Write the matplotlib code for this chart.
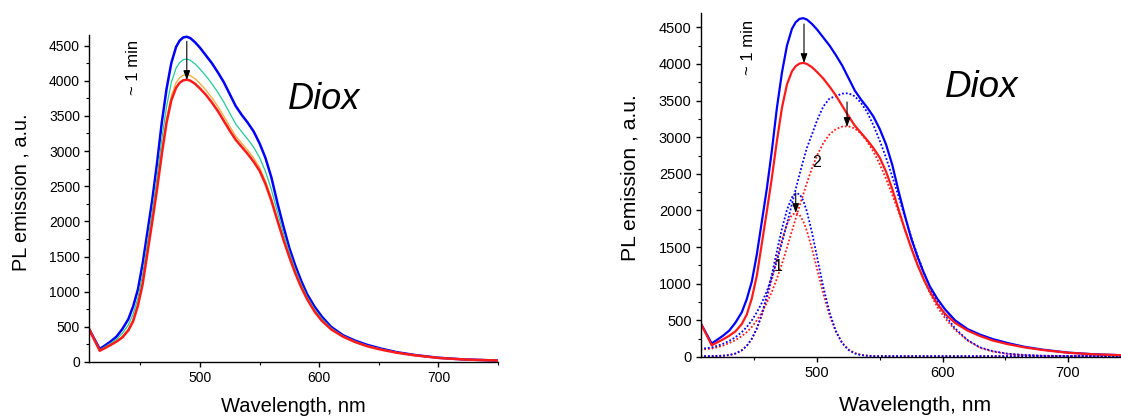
import matplotlib
matplotlib.use("Agg")
import matplotlib.pyplot as plt
from matplotlib.ticker import MultipleLocator

plt.rcParams['font.family'] = ['Liberation Sans', 'DejaVu Sans']

# ---------------- data ----------------
wavelength = [407, 416, 420, 425, 430, 435, 440, 444, 448, 452, 456, 460, 464, 468,
              472, 476, 480, 483, 486, 489, 492, 496, 500, 505, 510, 515, 520, 525,
              530, 535, 540, 545, 550, 555, 560, 565, 570, 575, 580, 585, 590, 596,
              602, 610, 620, 630, 640, 652, 665, 680, 700, 720, 750]

pl_start = [470, 185, 230, 290, 360, 470, 610, 790, 1030, 1400, 1850, 2300, 2820, 3400,
            3880, 4250, 4480, 4570, 4615, 4625, 4605, 4545, 4470, 4360, 4250, 4120, 3980, 3810,
            3640, 3515, 3405, 3280, 3110, 2900, 2620, 2260, 1930, 1620, 1370, 1150, 960, 790,
            650, 500, 380, 305, 245, 190, 140, 100, 60, 38, 20]

pl_t1 = [470, 172, 212, 264, 324, 408, 527, 681, 910, 1249, 1694, 2139, 2628, 3166,
         3630, 3974, 4178, 4258, 4298, 4308, 4290, 4238, 4168, 4069, 3959, 3834, 3695, 3540,
         3385, 3275, 3170, 3056, 2907, 2708, 2448, 2130, 1830, 1552, 1313, 1103, 924, 754,
         619, 482, 370, 295, 235, 183, 136, 97, 59, 38, 20]

pl_t2 = [470, 163, 199, 246, 298, 364, 469, 605, 828, 1145, 1586, 2027, 2494, 3004,
         3458, 3784, 3970, 4042, 4078, 4088, 4073, 4026, 3960, 3867, 3757, 3636, 3497, 3351,
         3213, 3112, 3013, 2902, 2767, 2574, 2330, 2040, 1760, 1506, 1273, 1071, 898, 728,
         597, 469, 362, 287, 227, 177, 133, 96, 58, 37, 20]

pl_end = [470, 160, 195, 240, 290, 350, 450, 580, 800, 1110, 1550, 1990, 2450, 2950,
          3400, 3720, 3900, 3970, 4005, 4015, 4000, 3955, 3890, 3800, 3690, 3570, 3430, 3290,
          3160, 3060, 2960, 2850, 2720, 2530, 2290, 2010, 1740, 1490, 1260, 1060, 890, 720,
          590, 465, 360, 285, 225, 175, 132, 95, 58, 37, 20]

band1_start = [12, 12, 14, 17, 26, 47, 90, 152, 249, 392, 587, 835, 1128, 1444,
               1750, 2008, 2181, 2232, 2225, 2136, 1980, 1695, 1365, 954, 607, 353, 189, 96,
               48, 26, 17, 12, 12, 12, 12, 12, 12, 12, 12, 12, 12, 12,
               12, 12, 12, 12, 12, 12, 12, 12, 12, 12, 12]

band1_end = [12, 12, 14, 18, 27, 48, 92, 153, 247, 384, 567, 796, 1061, 1341,
             1602, 1813, 1942, 1965, 1942, 1854, 1716, 1475, 1201, 861, 567, 346, 195, 105,
             55, 30, 19, 12, 12, 12, 12, 12, 12, 12, 12, 12, 12, 12,
             12, 12, 12, 12, 12, 12, 12, 12, 12, 12, 12]

band2_start = [110, 130, 150, 180, 220, 270, 340, 410, 500, 610, 740, 900, 1090, 1310,
               1560, 1820, 2090, 2290, 2490, 2680, 2860, 3040, 3230, 3420, 3530, 3560, 3595, 3600,
               3560, 3470, 3340, 3160, 2950, 2720, 2460, 2190, 1910, 1640, 1390, 1160, 950, 740,
               570, 390, 230, 130, 80, 45, 28, 18, 12, 12, 12]

band2_end = [100, 115, 130, 155, 190, 230, 285, 340, 410, 500, 610, 740, 890, 1070,
             1270, 1490, 1720, 1890, 2060, 2220, 2380, 2580, 2750, 2920, 3040, 3110, 3145, 3150,
             3120, 3050, 2940, 2800, 2630, 2430, 2210, 1980, 1740, 1500, 1270, 1060, 870, 680,
             530, 370, 225, 125, 75, 42, 25, 16, 12, 12, 12]

# annotation anchors (data units)
left_arrow = [(489, 4560), (489, 4010)]
right_arrows = [[(489.6, 4545), (489.6, 4013)],
                [(523.9, 3481), (523.9, 3140)],
                [(483.0, 2239), (483.0, 1966)]]
band_labels = ['1', '2']
band_label_pos = [(469, 1230), (500, 2660)]

BLUE = '#0000ff'
RED = '#ff1a1a'
TEAL = '#1fcc95'
ORANGE = '#f3a833'

fig = plt.figure(figsize=(11.21, 4.17), dpi=100)


def style_axes(ax, fs):
    ax.spines['top'].set_visible(False)
    ax.spines['right'].set_visible(False)
    for s in ('left', 'bottom'):
        ax.spines[s].set_linewidth(1.0)
    ax.xaxis.set_major_locator(MultipleLocator(100))
    ax.xaxis.set_minor_locator(MultipleLocator(50))
    ax.yaxis.set_major_locator(MultipleLocator(500))
    ax.yaxis.set_minor_locator(MultipleLocator(250))
    ax.tick_params(which='major', direction='out', length=3.5, width=1.0, labelsize=fs, pad=3)
    ax.tick_params(which='minor', direction='out', length=2.2, width=0.8)


arrow_kw = dict(arrowstyle='-|>,head_length=0.55,head_width=0.2', color='black',
                lw=0.8, shrinkA=0, shrinkB=0, mutation_scale=10)

# ---------------- left panel ----------------
ax1 = fig.add_axes([0.0794, 0.1319, 0.3649, 0.7842])
ax1.plot(wavelength, pl_start, color=BLUE, lw=1.8)
ax1.plot(wavelength, pl_t1, color=TEAL, lw=0.9)
ax1.plot(wavelength, pl_t2, color=ORANGE, lw=0.9)
ax1.plot(wavelength, pl_end, color=RED, lw=1.8)
ax1.set_xlim(407, 750)
ax1.set_ylim(0, 4650)
style_axes(ax1, 10)
ax1.annotate('', xy=left_arrow[1], xytext=left_arrow[0], arrowprops=arrow_kw)
ax1.text(444, 4184, '~ 1 min', rotation=90, ha='center', va='center', fontsize=12)
ax1.text(604, 3728, 'Diox', style='italic', ha='center', va='center', fontsize=26)

fig.text(0.0185, 0.540, 'PL emission , a.u.', rotation=90, ha='center', va='center', fontsize=14.3)
fig.text(0.2617, 0.026, 'Wavelength, nm', ha='center', va='center', fontsize=14.5)

# ---------------- right panel ----------------
ax2 = fig.add_axes([0.6251, 0.1439, 0.3836, 0.8257])
dot = (0, (1, 1.1))
ax2.plot(wavelength, band1_end, color=RED, lw=1.3, ls=dot)
ax2.plot(wavelength, band2_end, color=RED, lw=1.3, ls=dot)
ax2.plot(wavelength, band1_start, color=BLUE, lw=1.3, ls=dot)
ax2.plot(wavelength, band2_start, color=BLUE, lw=1.3, ls=dot)
ax2.plot(wavelength, pl_start, color=BLUE, lw=1.6)
ax2.plot(wavelength, pl_end, color=RED, lw=1.6)
ax2.set_xlim(407.3, 750)
ax2.set_ylim(0, 4700)
style_axes(ax2, 10.5)
for start, end in right_arrows:
    ax2.annotate('', xy=end, xytext=start, arrowprops=arrow_kw)
for lab, pos in zip(band_labels, band_label_pos):
    ax2.text(pos[0], pos[1], lab, ha='center', va='center', fontsize=11.5)
ax2.text(445, 4225, '~ 1 min', rotation=90, ha='center', va='center', fontsize=12)
ax2.text(631.4, 3672, 'Diox', style='italic', ha='center', va='center', fontsize=26.5)

fig.text(0.562, 0.574, 'PL emission , a.u.', rotation=90, ha='center', va='center', fontsize=15.2)
fig.text(0.816, 0.027, 'Wavelength, nm', ha='center', va='center', fontsize=15.2)

fig.savefig('out.png', dpi=100)
